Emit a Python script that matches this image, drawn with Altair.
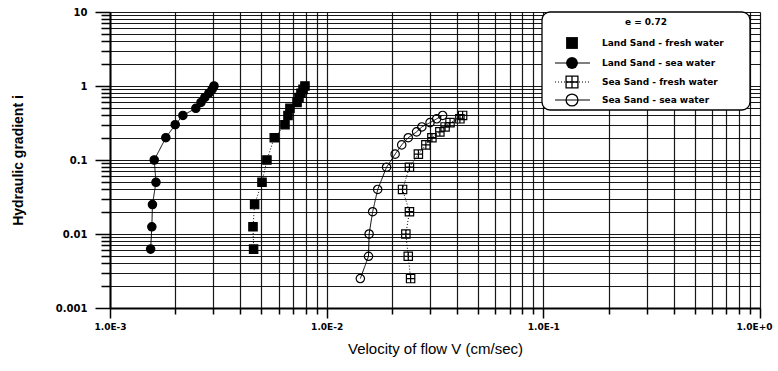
import altair as alt
import pandas as pd

series_names = [
    "Land Sand - fresh water",
    "Land Sand - sea water",
    "Sea Sand - fresh water",
    "Sea Sand - sea water",
]
legend_title = "e = 0.72"

# hydraulic gradient levels
land_i = [0.00625, 0.0125, 0.025, 0.05, 0.1, 0.2, 0.3, 0.4, 0.5, 0.6, 0.7, 0.8, 0.9, 1.0]
sea_i = [0.0025, 0.005, 0.01, 0.02, 0.04, 0.08, 0.12, 0.16, 0.2, 0.24, 0.28, 0.32, 0.36, 0.4]

# velocities (cm/sec)
land_fresh_v = [0.00460, 0.00457, 0.00465, 0.00503, 0.00530, 0.00573, 0.00642,
                0.00663, 0.00677, 0.00730, 0.00745, 0.00761, 0.00778, 0.00794]
land_sea_v = [0.00154, 0.00156, 0.00157, 0.00163, 0.00160, 0.00181, 0.00200,
              0.00217, 0.00249, 0.00263, 0.00274, 0.00286, 0.00296, 0.00302]
sea_fresh_v = [0.0244, 0.0238, 0.0232, 0.0241, 0.0224, 0.0241, 0.0265,
               0.0287, 0.0306, 0.0333, 0.0352, 0.0371, 0.0412, 0.0424]
sea_sea_v = [0.0143, 0.0156, 0.0157, 0.0163, 0.0172, 0.0189, 0.0207,
             0.0222, 0.0238, 0.0260, 0.0275, 0.0300, 0.0322, 0.0343]

x_ticks = [m * 10.0 ** e for e in (-3, -2, -1) for m in range(1, 10)] + [1.0]
y_ticks = [m * 10.0 ** e for e in (-3, -2, -1, 0) for m in range(1, 10)] + [10.0]

rows = []
for name, vs, iis in [
    (series_names[0], land_fresh_v, land_i),
    (series_names[1], land_sea_v, land_i),
    (series_names[2], sea_fresh_v, sea_i),
    (series_names[3], sea_sea_v, sea_i),
]:
    for v, i in zip(vs, iis):
        rows.append({"series": name, "curve": name, "v": v, "i": i})
df = pd.DataFrame(rows)

MAJOR = "abs(log(datum.value)/LN10 - round(log(datum.value)/LN10)) < 0.01"
EXP = "round(log(datum.value)/LN10)"

bold_font = "DejaVu Sans"
title_font = "Liberation Sans Narrow, Liberation Sans, Arial"
cross_square = "M-1,-1H1V1H-1Z M0,-1V1 M-1,0H1"

shapes = ["square", "circle", cross_square, "circle"]
fills = ["black", "black", "transparent", "transparent"]
dashes = [[1, 2], [1, 0], [1, 2], [1, 0]]

x_enc = alt.X(
    "v:Q",
    scale=alt.Scale(type="log", domain=[0.001, 1], nice=False),
    axis=alt.Axis(
        values=x_ticks,
        labelExpr=f"{MAJOR} ? '1.0E' + ({EXP} >= 0 ? '+' : '') + {EXP} : ''",
        tickSize={"condition": {"test": MAJOR, "value": 10}, "value": 6},
        labelOffset={"condition": {"test": "datum.value > 0.5", "value": -6}, "value": 0},
        tickColor="black", tickWidth=1.5,
        domainColor="black", domainWidth=2,
        gridColor="black", gridOpacity=0.9, gridWidth=1.2,
        labelFont=bold_font, labelFontSize=9, labelFontWeight="bold",
        labelColor="black", labelPadding=4, labelFlush=False, labelOverlap=False,
        title="Velocity of flow V (cm/sec)",
        titleFont=title_font, titleFontSize=15, titleFontWeight="normal",
        titleColor="black", titlePadding=10,
    ),
)
y_enc = alt.Y(
    "i:Q",
    scale=alt.Scale(type="log", domain=[0.001, 10], nice=False),
    axis=alt.Axis(
        values=y_ticks,
        labelExpr=f"{MAJOR} ? format(datum.value, '~g') : ''",
        tickSize={"condition": {"test": MAJOR, "value": 15}, "value": 9},
        tickColor="black", tickWidth=1.5,
        domainColor="black", domainWidth=2,
        gridColor="black", gridOpacity=0.9, gridWidth=1.2,
        labelFont=bold_font, labelFontSize=10, labelFontWeight="bold",
        labelColor="black", labelPadding=8, labelFlush=False, labelOverlap=False,
        title="Hydraulic gradient  i",
        titleFont=title_font, titleFontSize=14, titleFontWeight="bold",
        titleColor="black", titlePadding=30,
    ),
)

lines = alt.Chart(df).mark_line(color="black", strokeWidth=1).encode(
    x=x_enc, y=y_enc,
    detail="curve:N",
    order=alt.Order("i:Q"),
    strokeDash=alt.StrokeDash(
        "curve:N", scale=alt.Scale(domain=series_names, range=dashes), legend=None,
    ),
)

points = alt.Chart(df).mark_point(strokeWidth=1.2, stroke="black", opacity=1, size=70).encode(
    x=x_enc, y=y_enc,
    shape=alt.Shape("series:N", scale=alt.Scale(domain=series_names, range=shapes), legend=None),
    fill=alt.Fill("series:N", scale=alt.Scale(domain=series_names, range=fills), legend=None),
)

# ---- legend box (drawn as decoration) ----
one = pd.DataFrame({"label": [legend_title]})
legend_layers = [
    alt.Chart(one).mark_rect(fill="white", stroke="black", strokeWidth=1.3, cornerRadius=8).encode(
        x=alt.value(432), x2=alt.value(640), y=alt.value(0), y2=alt.value(98)
    ),
    alt.Chart(one).mark_text(
        align="center", baseline="middle", font=bold_font, fontSize=9,
        fontWeight="bold", color="black"
    ).encode(x=alt.value(536), y=alt.value(10), text="label:N"),
]
row_y = [31, 51, 70, 88]
row_line = [False, True, True, True]
for name, yy, shp, fl, dsh, has_line in zip(series_names, row_y, shapes, fills, dashes, row_line):
    rowdf = pd.DataFrame({"label": [name]})
    if has_line:
        legend_layers.append(
            alt.Chart(rowdf).mark_rule(color="black", strokeWidth=1, strokeDash=dsh).encode(
                x=alt.value(445), x2=alt.value(480), y=alt.value(yy)
            )
        )
    legend_layers.append(
        alt.Chart(rowdf).mark_point(
            shape=shp, filled=(fl == "black"), color="black", fill=fl,
            strokeWidth=1.3, opacity=1, size=140,
        ).encode(x=alt.value(462), y=alt.value(yy))
    )
    legend_layers.append(
        alt.Chart(rowdf).mark_text(
            align="left", baseline="middle", font=bold_font, fontSize=9,
            fontWeight="bold", color="black"
        ).encode(x=alt.value(492), y=alt.value(yy), text="label:N")
    )

chart = (
    alt.layer(lines, points, *legend_layers)
    .properties(
        width=650, height=296,
        autosize=alt.AutoSizeParams(type="none"),
        padding={"left": 110, "top": 12, "right": 18, "bottom": 63},
        background="white",
    )
    .configure_view(stroke=None)
)

chart.save("out.html", embed_options={"renderer": "svg", "actions": False})
